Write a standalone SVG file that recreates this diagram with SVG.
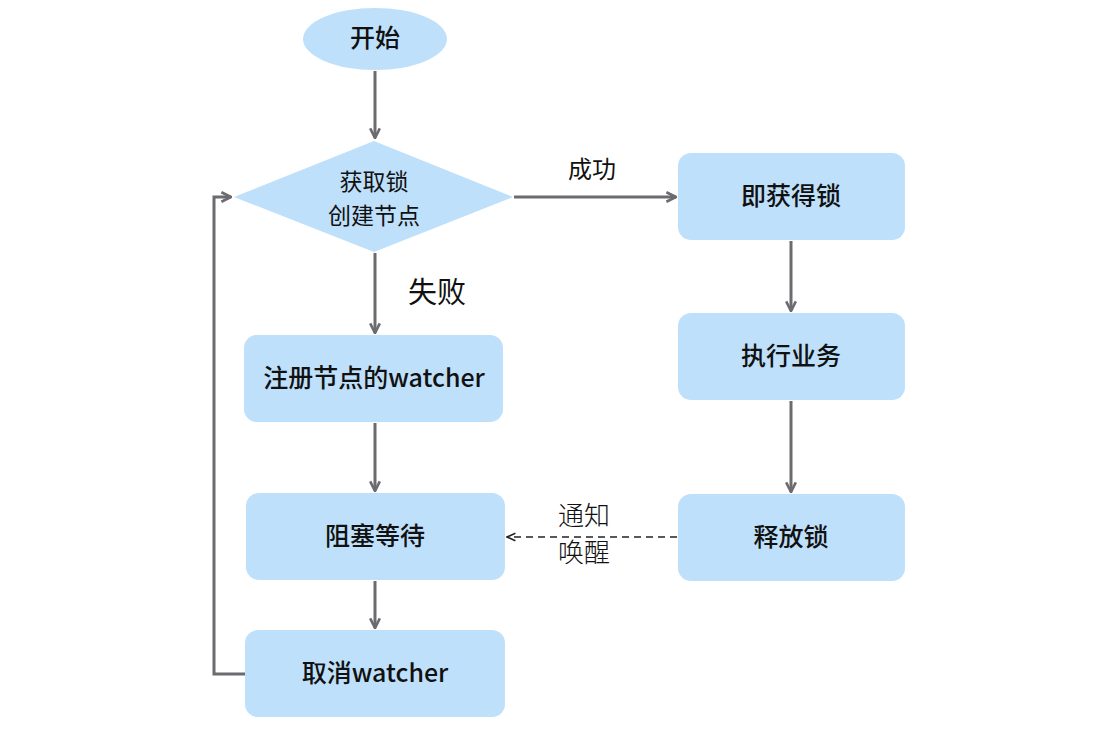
<svg xmlns="http://www.w3.org/2000/svg" width="1113" height="733" viewBox="0 0 1113 733">
<style>
.node{fill:#bfe0fb;}
.t{font-family:"Noto Sans CJK SC","Liberation Sans",sans-serif;font-size:25px;font-weight:500;fill:#111;text-anchor:middle;dominant-baseline:central;}
.lbl{font-family:"Noto Sans CJK SC","Liberation Sans",sans-serif;fill:#111;text-anchor:middle;dominant-baseline:central;}
.c{fill:none;stroke:#6b6b70;stroke-width:3;}
.d{fill:none;stroke:#222;stroke-width:1.5;stroke-dasharray:7,5;}
</style>
<defs>
<marker id="ah" viewBox="0 0 10 10" refX="9" refY="5" markerWidth="4" markerHeight="4" orient="auto" markerUnits="strokeWidth">
<path d="M1,1 L9,5 L1,9" fill="none" stroke="#6b6b70" stroke-width="2.2"/>
</marker>
<marker id="ad" viewBox="0 0 10 10" refX="9" refY="5" markerWidth="7" markerHeight="7" orient="auto" markerUnits="strokeWidth">
<path d="M1,1.5 L9,5 L1,8.5" fill="none" stroke="#222" stroke-width="1.5"/>
</marker>
</defs>
<rect width="1113" height="733" fill="#fff"/>
<g id="connectors">
<line class="c" x1="375" y1="71" x2="375" y2="138" marker-end="url(#ah)"/>
<line class="c" x1="514" y1="197" x2="676" y2="197" marker-end="url(#ah)"/>
<line class="c" x1="375" y1="253" x2="375" y2="333" marker-end="url(#ah)"/>
<line class="c" x1="791" y1="241" x2="791" y2="311" marker-end="url(#ah)"/>
<line class="c" x1="791" y1="401" x2="791" y2="492" marker-end="url(#ah)"/>
<line class="c" x1="375" y1="423" x2="375" y2="491" marker-end="url(#ah)"/>
<line class="c" x1="375" y1="581" x2="375" y2="628" marker-end="url(#ah)"/>
<polyline class="c" points="245,674 214,674 214,197 231,197" marker-end="url(#ah)"/>
<line class="d" x1="677" y1="537" x2="507" y2="537" marker-end="url(#ad)"/>
<text class="lbl" x="592" y="167" font-size="24">成功</text>
<text class="lbl" x="437" y="290" font-size="29">失败</text>
<text class="lbl" x="584" y="513" font-size="26" font-weight="300">通知</text>
<text class="lbl" x="584" y="550" font-size="26" font-weight="300">唤醒</text>
</g>
<g id="start">
<ellipse class="node" cx="375" cy="39" rx="72" ry="31"/>
<text class="t" x="375" y="36">开始</text>
</g>
<g id="acquire">
<polygon class="node" points="374,141 513,197 374,252 234,197"/>
<text class="lbl" x="374" y="180" font-size="23">获取锁</text>
<text class="lbl" x="374" y="214" font-size="23">创建节点</text>
</g>
<g id="got">
<rect class="node" x="678" y="153" width="227" height="87" rx="13"/>
<text class="t" x="791" y="194">即获得锁</text>
</g>
<g id="exec">
<rect class="node" x="678" y="313" width="227" height="87" rx="13"/>
<text class="t" x="791" y="354">执行业务</text>
</g>
<g id="release">
<rect class="node" x="678" y="494" width="227" height="87" rx="13"/>
<text class="t" x="791" y="535">释放锁</text>
</g>
<g id="register">
<rect class="node" x="244" y="335" width="259" height="87" rx="13"/>
<text class="t" x="374" y="376">注册节点的watcher</text>
</g>
<g id="block">
<rect class="node" x="246" y="493" width="259" height="87" rx="13"/>
<text class="t" x="375" y="534">阻塞等待</text>
</g>
<g id="cancel">
<rect class="node" x="245" y="630" width="260" height="87" rx="13"/>
<text class="t" x="375" y="671">取消watcher</text>
</g>
</svg>
